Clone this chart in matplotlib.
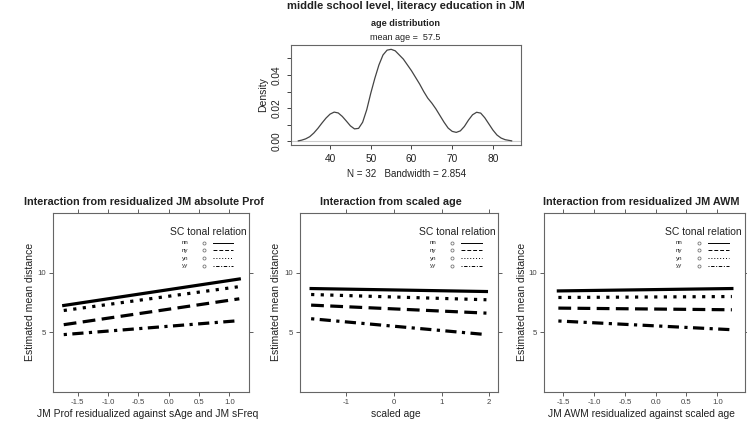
import numpy as np
import matplotlib.pyplot as plt

plt.rcParams['font.family'] = ['Liberation Sans', 'DejaVu Sans']

W, H = 747, 422

# density of age
age = [32.2, 33, 34, 35, 36, 37, 38, 39, 40, 41, 42, 43, 44, 45, 46, 47, 48, 49,
       50, 51, 52, 53, 54, 55, 56, 57, 58, 59, 60, 61, 62, 63, 64, 65, 66, 67, 68,
       69, 70, 71, 72, 73, 74, 75, 76, 77, 78, 79, 80, 81, 82, 83, 84.6]
dens = [0.0003, 0.0007, 0.0015, 0.0028, 0.005, 0.0078, 0.011, 0.014, 0.0164,
        0.0176, 0.0171, 0.0150, 0.0122, 0.0093, 0.0075, 0.0078, 0.0115, 0.019,
        0.029, 0.038, 0.046, 0.052, 0.0549, 0.0554, 0.0545, 0.052, 0.0495, 0.046,
        0.0425, 0.0385, 0.0345, 0.030, 0.026, 0.023, 0.0195, 0.0155, 0.0115, 0.008,
        0.006, 0.0054, 0.0063, 0.009, 0.0128, 0.016, 0.0175, 0.017, 0.0142, 0.0105,
        0.0068, 0.0038, 0.002, 0.001, 0.0003]

groups = ['nn', 'ny', 'yn', 'yy']

# effect lines: start/end x and y per group
p1_x = [-1.73, 1.165]
p1_y = {'nn': [7.25, 9.47], 'ny': [5.64, 7.81], 'yn': [6.83, 8.83], 'yy': [4.81, 5.98]}
p2_x = [-1.73, 1.94]
p2_y = {'nn': [8.67, 8.42], 'ny': [7.28, 6.61], 'yn': [8.17, 7.73], 'yy': [6.14, 4.81]}
p3_x = [-1.58, 1.237]
p3_y = {'nn': [8.47, 8.67], 'ny': [7.03, 6.89], 'yn': [7.92, 8.0], 'yy': [5.95, 5.22]}

styles = {'nn': '-', 'ny': (0, (4, 2)), 'yn': (0, (1, 2)), 'yy': (0, (1, 1.7, 3.5, 1.7))}


def box(l, t, r, b):
    return [l / W, 1 - b / H, (r - l) / W, (b - t) / H]


fig = plt.figure(figsize=(W / 100, H / 100), dpi=100)
txt = '#222222'
axc = '#666666'

fig.text(406 / W, 1 - 6 / H, 'middle school level, literacy education in JM',
         ha='center', va='center', fontsize=8.1, fontweight='bold', color=txt)

# density plot
ax = fig.add_axes(box(291, 45, 521, 145))
ax.plot(age, dens, color='#444444', lw=0.9)
ax.axhline(0, color='#cccccc', lw=0.8, zorder=0)
ax.set_xlim(30.4, 86.9)
ax.set_ylim(-0.0022, 0.058)
ax.set_xticks([40, 50, 60, 70, 80])
ax.set_yticks([0, 0.01, 0.02, 0.03, 0.04, 0.05])
ax.set_yticklabels(['0.00', '', '0.02', '', '0.04', ''], rotation=90, va='center')
ax.tick_params(labelsize=7.3, colors=txt, length=3, width=0.6)
for s in ax.spines.values():
    s.set_color(axc)
    s.set_linewidth(0.8)
ax.set_ylabel('Density', fontsize=7.5, color=txt, labelpad=3)
fig.text(405.5 / W, 1 - 24 / H, 'age distribution', ha='center', va='center',
         fontsize=6.6, fontweight='bold', color=txt)
fig.text(405.5 / W, 1 - 37.3 / H, 'mean age =  57.5', ha='center', va='center',
         fontsize=6.5, color=txt)
fig.text(406.3 / W, 1 - 174 / H, 'N = 32   Bandwidth = 2.854', ha='center', va='center',
         fontsize=7.1, color=txt)

panels = [
    (box(53, 213, 249, 392), (-1.907, 1.325), [-1.5, -1.0, -0.5, 0.0, 0.5, 1.0],
     ['-1.5', '-1.0', '-0.5', '0.0', '0.5', '1.0'], p1_x, p1_y,
     'Interaction from residualized JM absolute Prof', 144,
     'JM Prof residualized against sAge and JM sFreq', 30),
    (box(299.5, 213, 498, 392), (-1.973, 2.182), [-1, 0, 1, 2],
     ['-1', '0', '1', '2'], p2_x, p2_y,
     'Interaction from scaled age', 390.5, 'scaled age', 276),
    (box(544, 213, 745, 392), (-1.813, 1.45), [-1.5, -1.0, -0.5, 0.0, 0.5, 1.0],
     ['-1.5', '-1.0', '-0.5', '0.0', '0.5', '1.0'], p3_x, p3_y,
     'Interaction from residualized JM AWM', 640.8,
     'JM AWM residualized against scaled age', 521.7),
]

for rect, xlim, xt, xtl, xs, ys, title, tx, xlabel, ylx in panels:
    ax = fig.add_axes(rect)
    for g in groups:
        ax.plot(xs, ys[g], color='black', lw=2.3, linestyle=styles[g],
                dash_capstyle='butt')
    ax.set_xlim(*xlim)
    ax.set_ylim(0, 15)
    ax.set_xticks(xt)
    ax.set_xticklabels(xtl)
    ax.set_yticks([5, 10])
    ax.set_yticklabels(['5', '10'])
    ax.tick_params(top=True, right=True, labeltop=False, labelright=False,
                   direction='out', length=3, width=0.6, labelsize=5.6,
                   colors='#444444', pad=2)
    for s in ax.spines.values():
        s.set_color(axc)
        s.set_linewidth(0.8)
    fig.text(tx / W, 1 - 202 / H, title, ha='center', va='center',
             fontsize=7.8, fontweight='bold', color=txt)
    c = (rect[0] + rect[2] / 2) * W - 3
    fig.text(c / W, 1 - 414 / H, xlabel, ha='center', va='center',
             fontsize=7.4, color=txt)
    fig.text(ylx / W, 1 - 302 / H, 'Estimated mean distance', ha='center',
             va='center', rotation=90, fontsize=7.6, color=txt)

    # legend
    ax.text(0.793, 0.894, 'SC tonal relation', transform=ax.transAxes,
            ha='center', va='center', fontsize=7.5, color=txt)
    for i, g in enumerate(groups):
        fy = 0.834 - i * 0.043
        ax.text(0.673, fy, g, transform=ax.transAxes, ha='center', va='center',
                fontsize=4.5, color=txt)
        ax.plot([0.77], [fy], transform=ax.transAxes, marker='o', ms=2.2,
                mfc='none', mec='#777777', mew=0.6)
        ax.plot([0.816, 0.918], [fy, fy], transform=ax.transAxes, color='black',
                lw=0.7, linestyle=styles[g])

fig.savefig('out.png', dpi=100)
